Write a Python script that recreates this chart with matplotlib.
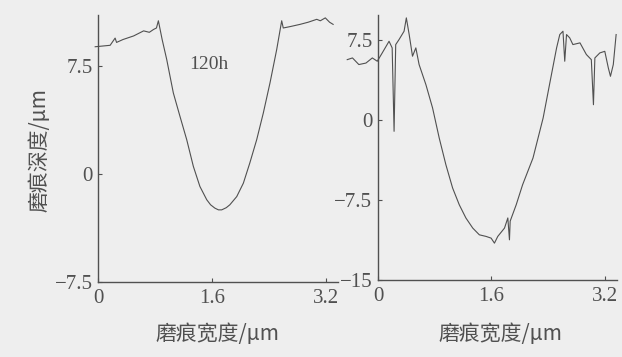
import matplotlib
matplotlib.use("Agg")
import matplotlib.pyplot as plt

plt.rcParams["font.family"] = ["Liberation Serif", "Noto Sans CJK SC"]

# left profile (120h)
left_x = [-0.04, 0.17, 0.24, 0.26, 0.35, 0.50, 0.64, 0.72, 0.78, 0.82, 0.847,
          0.90, 0.964, 1.057, 1.15, 1.245, 1.338, 1.43, 1.526, 1.58, 1.64, 1.69,
          1.736, 1.80, 1.85, 1.947, 2.04, 2.13, 2.227, 2.32, 2.414, 2.508,
          2.578, 2.60, 2.70, 2.835, 2.95, 3.07, 3.12, 3.19, 3.25, 3.30]
left_y = [8.8, 8.9, 9.4, 9.1, 9.3, 9.55, 9.9, 9.8, 10.0, 10.1, 10.6,
          9.3, 7.92, 5.6, 3.98, 2.36, 0.51, -0.88, -1.8, -2.15, -2.38, -2.5,
          -2.5, -2.35, -2.15, -1.58, -0.65, 0.74, 2.36, 4.21, 6.3, 8.61,
          10.6, 10.1, 10.2, 10.35, 10.5, 10.7, 10.6, 10.8, 10.5, 10.35]

# right profile
right_x = [-0.434, -0.36, -0.27, -0.17, -0.08, -0.01, 0.06, 0.156, 0.2, 0.227,
           0.25, 0.297, 0.368, 0.40, 0.44, 0.487, 0.534, 0.58, 0.676, 0.77,
           0.864, 0.958, 1.053, 1.147, 1.24, 1.337, 1.43, 1.525, 1.596, 1.643,
           1.69, 1.785, 1.832, 1.855, 1.865, 1.95, 2.04, 2.187, 2.33, 2.42,
           2.52, 2.565, 2.61, 2.635, 2.66, 2.705, 2.75, 2.85, 2.94, 3.01,
           3.04, 3.06, 3.13, 3.2, 3.25, 3.28, 3.32, 3.36]
right_y = [5.62, 5.78, 5.16, 5.3, 5.78, 5.47, 6.25, 7.34, 6.72, -1.09,
           7.03, 7.5, 8.28, 9.53, 7.97, 5.94, 6.72, 5.16, 3.28, 1.1,
           -1.72, -4.22, -6.4, -7.97, -9.2, -10.15, -10.78, -10.93, -11.09, -11.56,
           -10.93, -10.15, -9.2, -11.25, -9.5, -7.97, -6.1, -3.59, 0.16, 3.28,
           6.72, 7.97, 8.28, 5.47, 7.97, 7.66, 7.03, 7.19, 6.1, 5.62,
           1.4, 5.78, 6.25, 6.4, 4.84, 4.06, 5.16, 7.97]

x_ticks = [0, 1.6, 3.2]
x_ticklabels = ["0", "1.6", "3.2"]
left_yticks = [-7.5, 0, 7.5]
left_yticklabels = ["\u22127.5", "0", "7.5"]
right_yticks = [-15, -7.5, 0, 7.5]
right_yticklabels = ["\u221215", "\u22127.5", "0", "7.5"]

ink = "#505050"
bg = "#eeeeee"
cjk = ["Noto Sans CJK SC", "DejaVu Sans"]

fig = plt.figure(figsize=(6.22, 3.57), dpi=100, facecolor=bg)
ax1 = fig.add_axes([0.1576, 0.210, 0.386, 0.748])
ax2 = fig.add_axes([0.6077, 0.216, 0.384, 0.742])

panels = [
    (ax1, left_x, left_y, (-7.5, 11.0), left_yticks, left_yticklabels),
    (ax2, right_x, right_y, (-15, 9.8), right_yticks, right_yticklabels),
]
for ax, xs, ys, ylim, yt, ytl in panels:
    ax.set_facecolor("none")
    ax.plot(xs, ys, color=ink, lw=0.8, clip_on=False)
    ax.set_xlim(0, 3.37)
    ax.set_ylim(*ylim)
    ax.set_xticks(x_ticks)
    ax.set_xticklabels(x_ticklabels)
    ax.set_yticks(yt)
    ax.set_yticklabels(ytl)
    for s in ["top", "right"]:
        ax.spines[s].set_visible(False)
    for s in ["left", "bottom"]:
        ax.spines[s].set_color(ink)
        ax.spines[s].set_linewidth(1.0)
    ax.tick_params(direction="in", length=3, width=0.8, color=ink,
                   labelcolor=ink, labelsize=15)
    ax.tick_params(axis="x", pad=5)
    ax.tick_params(axis="y", pad=4)

ax1.text(1.55, 7.6, "120h", fontsize=14, color=ink, ha="center", va="center")

fig.text(0.064, 0.58, "磨痕深度/μm", rotation=90, fontsize=15, color=ink,
         ha="center", va="center", family=cjk)
fig.text(0.35, 0.064, "磨痕宽度/μm", fontsize=15, color=ink,
         ha="center", va="center", family=cjk)
fig.text(0.805, 0.064, "磨痕宽度/μm", fontsize=15, color=ink,
         ha="center", va="center", family=cjk)

fig.savefig("out.png", dpi=100, facecolor=bg)
